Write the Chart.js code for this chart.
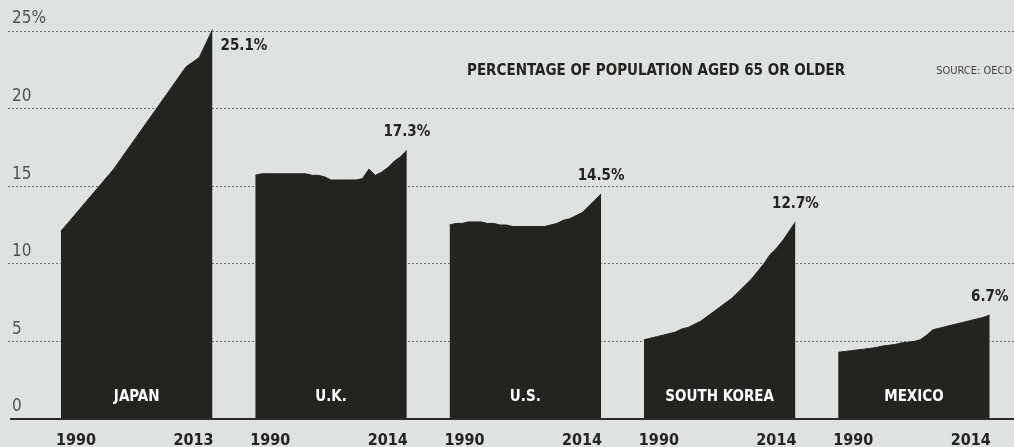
<!DOCTYPE html>
<html>
<head>
<meta charset="utf-8">
<script src="https://cdn.jsdelivr.net/npm/chart.js@4.4.1/dist/chart.umd.min.js"></script>
<style>
  html, body { margin: 0; padding: 0; background: #dfe3e0; overflow: hidden; }
  canvas { display: block; }
</style>
</head>
<body>
<canvas id="chart" width="1014" height="447"></canvas>
<script>
// Share of the population aged 65 or older, yearly, per country (OECD)
const countries = ['JAPAN', 'U.K.', 'U.S.', 'SOUTH KOREA', 'MEXICO'];
const firstYears = [1990, 1990, 1990, 1990, 1990];
const lastYears = [2013, 2014, 2014, 2014, 2014];

const japan = [12.1, 12.6, 13.1, 13.6, 14.1, 14.6, 15.1, 15.6, 16.1, 16.7, 17.3, 17.9,
               18.5, 19.1, 19.7, 20.3, 20.9, 21.5, 22.1, 22.7, 23.0, 23.3, 24.2, 25.1];
const uk = [15.7, 15.8, 15.8, 15.8, 15.8, 15.8, 15.8, 15.8, 15.8, 15.7, 15.7, 15.6, 15.4,
            15.4, 15.4, 15.4, 15.4, 15.5, 16.1, 15.7, 15.9, 16.2, 16.6, 16.9, 17.3];
const us = [12.5, 12.6, 12.6, 12.7, 12.7, 12.7, 12.6, 12.6, 12.5, 12.5, 12.4, 12.4, 12.4,
            12.4, 12.4, 12.4, 12.5, 12.6, 12.8, 12.9, 13.1, 13.3, 13.7, 14.1, 14.5];
const southKorea = [5.1, 5.2, 5.3, 5.4, 5.5, 5.6, 5.8, 5.9, 6.1, 6.3, 6.6, 6.9, 7.2,
                    7.5, 7.8, 8.2, 8.6, 9.0, 9.5, 10.0, 10.6, 11.0, 11.5, 12.1, 12.7];
const mexico = [4.3, 4.35, 4.4, 4.45, 4.5, 4.55, 4.6, 4.7, 4.75, 4.8, 4.9, 4.95, 5.0,
                5.1, 5.4, 5.75, 5.85, 5.95, 6.05, 6.15, 6.25, 6.35, 6.45, 6.55, 6.7];

const yTicks = [0, 5, 10, 15, 20, 25];
const titleText = 'PERCENTAGE OF POPULATION AGED 65 OR OLDER';
const sourceText = 'SOURCE: OECD';

// ---- layout & style ----
const series = [japan, uk, us, southKorea, mexico];
const valuePlacement = ['right', 'above', 'above', 'above', 'above'];
const PANEL_WIDTH = 0.78;          // share of one x unit covered by a panel
const X_MIN = -0.2725, X_MAX = 4.905;
const AREA = '#23241f';
const INK = '#232420';
const COND = '"DejaVu Sans Condensed", "DejaVu Sans", sans-serif';

const datasets = series.map((vals, k) => ({
  label: countries[k],
  data: vals.map((v, i) => ({ x: k + (i / (vals.length - 1)) * PANEL_WIDTH, y: v })),
  fill: 'origin',
  backgroundColor: AREA,
  borderColor: AREA,
  borderWidth: 1,
  pointRadius: 0,
  tension: 0,
  clip: false
}));

const annotations = {
  id: 'annotations',
  afterDatasetsDraw(chart) {
    const { ctx, chartArea, scales: { x, y } } = chart;
    const y0 = y.getPixelForValue(0);
    ctx.save();

    // baseline
    ctx.strokeStyle = '#2b2c28';
    ctx.lineWidth = 2;
    ctx.beginPath();
    ctx.moveTo(chartArea.left + 2, y0);
    ctx.lineTo(chartArea.right, y0);
    ctx.stroke();

    // title and source
    ctx.textBaseline = 'middle';
    ctx.textAlign = 'left';
    ctx.fillStyle = INK;
    ctx.font = 'bold 15px ' + COND;
    ctx.fillText(titleText, 467, 71);
    ctx.fillStyle = '#444';
    ctx.font = '11px ' + COND;
    ctx.textAlign = 'right';
    ctx.fillText(sourceText, 1012, 71);

    series.forEach((vals, k) => {
      const left = x.getPixelForValue(k);
      const right = x.getPixelForValue(k + PANEL_WIDTH);
      const last = vals[vals.length - 1];
      const top = y.getPixelForValue(last);

      // value at the latest year
      ctx.fillStyle = INK;
      ctx.font = 'bold 15px ' + COND;
      const txt = last.toFixed(1) + '%';
      if (valuePlacement[k] === 'right') {
        ctx.textAlign = 'left';
        ctx.fillText(txt, right + 8, top + 17);
      } else {
        ctx.textAlign = 'center';
        ctx.fillText(txt, right, top - 18);
      }

      // country name inside the area
      ctx.fillStyle = '#ffffff';
      ctx.font = 'bold 15px ' + COND;
      ctx.textAlign = 'center';
      ctx.fillText(countries[k], (left + right) / 2, y0 - 22);

      // first and last year under the panel
      ctx.fillStyle = INK;
      ctx.font = 'bold 16px ' + COND;
      ctx.textAlign = 'left';
      ctx.fillText(String(firstYears[k]), left - 5, y0 + 22);
      ctx.textAlign = 'right';
      ctx.fillText(String(lastYears[k]), right + 1, y0 + 22);
    });
    ctx.restore();
  }
};

new Chart(document.getElementById('chart'), {
  type: 'line',
  data: { datasets },
  options: {
    responsive: false,
    animation: false,
    devicePixelRatio: 1,
    layout: { padding: { top: 31, bottom: 28, left: 0, right: 0 } },
    plugins: { legend: { display: false }, tooltip: { enabled: false } },
    scales: {
      x: { type: 'linear', min: X_MIN, max: X_MAX, display: false },
      y: {
        min: 0,
        max: 25,
        afterBuildTicks: scale => { scale.ticks = yTicks.map(v => ({ value: v })); },
        grid: {
          color: c => (c.tick && c.tick.value === 0) ? 'rgba(0,0,0,0)' : '#6f736f',
          lineWidth: 1,
          drawTicks: false
        },
        border: { display: false, dash: [2, 2] },
        ticks: {
          mirror: true,
          padding: 4,
          labelOffset: -12,
          color: '#50544f',
          font: { family: COND, size: 17 },
          callback: v => v === 25 ? '25%' : String(v)
        }
      }
    }
  },
  plugins: [annotations]
});
</script>
</body>
</html>
